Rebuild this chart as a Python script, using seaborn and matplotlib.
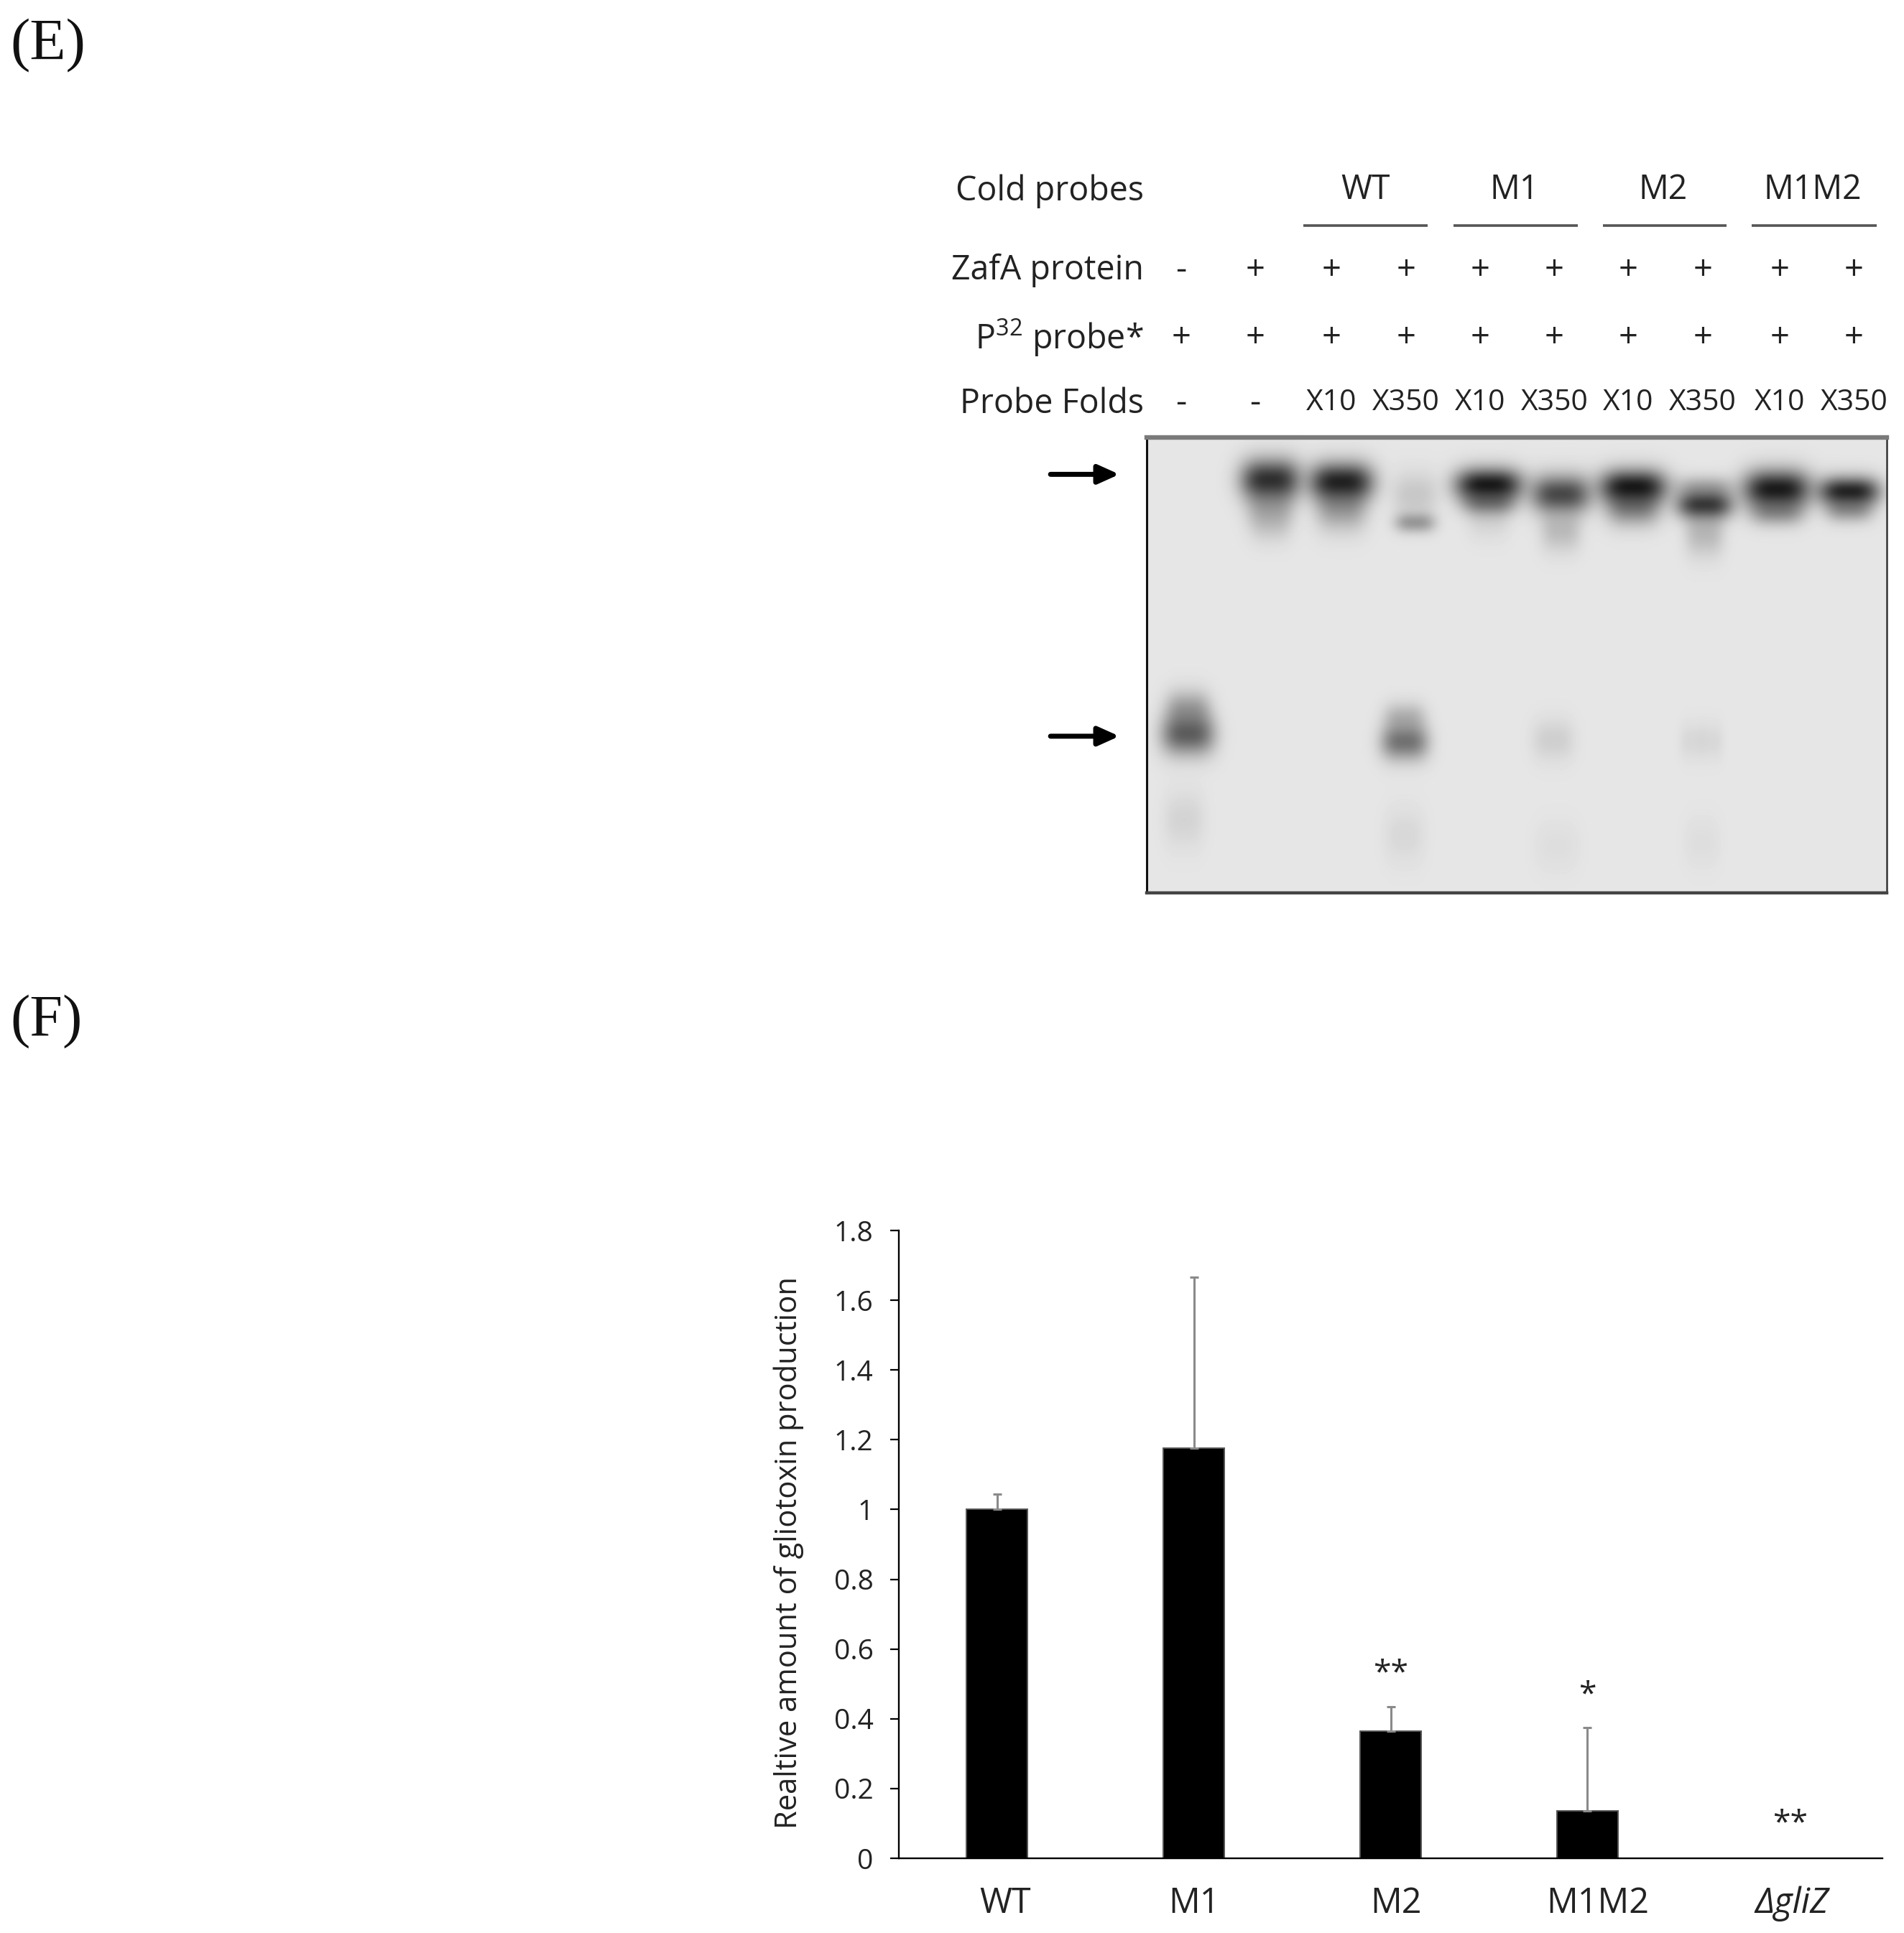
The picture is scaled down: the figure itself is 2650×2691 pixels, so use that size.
import numpy as np
import pandas as pd
import matplotlib
matplotlib.use("Agg")
import matplotlib.pyplot as plt
from matplotlib.transforms import blended_transform_factory, ScaledTranslation
import seaborn as sns

# ---- bar chart data (panel F)
strains = ["WT", "M1", "M2", "M1M2", "ΔgliZ"]
gliotoxin = [1.0, 1.175, 0.365, 0.135, 0.0]
err_upper = [0.045, 0.492, 0.07, 0.24, 0.0]
star_marks = ["", "", "**", "*", "**"]
star_x = [0, 1, 2.0, 3.0, 4.03]
star_heights = [0, 0, 0.528, 0.468, 0.098]
ytick_values = [0, 0.2, 0.4, 0.6, 0.8, 1, 1.2, 1.4, 1.6, 1.8]
ytick_labels = ["0", "0.2", "0.4", "0.6", "0.8", "1", "1.2", "1.4", "1.6", "1.8"]
label_shift_px = [11, 0, 7, 14, 11]

# ---- gel annotation (panel E)
lanes = [0, 0.99, 2.02, 3.02, 4.01, 5.01, 6.0, 7.0, 8.03, 9.03]
zafa_row = ["-", "+", "+", "+", "+", "+", "+", "+", "+", "+"]
p32_row = ["+"] * 10
folds_row = ["-", "-", "X10", "X350", "X10", "X350", "X10", "X350", "X10", "X350"]
group_names = ["WT", "M1", "M2", "M1M2"]
group_centres = [2.47, 4.47, 6.47, 8.47]
group_starts = [1.64, 3.65, 5.66, 7.66]
group_ends = [3.31, 5.32, 7.32, 9.33]
row_names = ["Cold probes", "ZafA protein", "P32 probe*", "Probe Folds"]

# ---- gel bands: position in lanes, migration (0 top..1 bottom), half sizes, darkness
band_x = [1.196, 1.196, 1.196,
          2.15, 2.15, 3.14, 3.14,
          4.13, 4.13, 4.13,
          5.10, 5.10,
          6.07, 6.07,
          7.03, 7.03, 7.03,
          8.0, 8.0, 8.97, 8.97,
          0.09, 0.09, 3.0, 3.0, 5.0, 6.86, 7.12,
          0.04, 3.0, 5.05, 7.0]
band_y = [0.092, 0.153, 0.195,
          0.097, 0.153, 0.126, 0.187,
          0.103, 0.142, 0.184,
          0.124, 0.205,
          0.108, 0.153,
          0.108, 0.147, 0.21,
          0.113, 0.163, 0.118, 0.158,
          0.652, 0.595, 0.669, 0.614, 0.665, 0.668, 0.668,
          0.84, 0.875, 0.9, 0.89]
band_sx = [0.4, 0.32, 0.26,
           0.43, 0.34, 0.3, 0.27,
           0.45, 0.36, 0.28,
           0.4, 0.27,
           0.45, 0.36,
           0.38, 0.38, 0.26,
           0.45, 0.36, 0.41, 0.32,
           0.36, 0.3, 0.32, 0.28, 0.28, 0.16, 0.16,
           0.27, 0.27, 0.3, 0.24]
band_sy = [0.045, 0.05, 0.04,
           0.042, 0.05, 0.05, 0.022,
           0.036, 0.03, 0.04,
           0.042, 0.045,
           0.038, 0.04,
           0.025, 0.032, 0.05,
           0.042, 0.03, 0.032, 0.028,
           0.046, 0.04, 0.04, 0.032, 0.045, 0.04, 0.04,
           0.06, 0.06, 0.055, 0.055]
band_dark = [0.78, 0.25, 0.07,
             0.84, 0.32, 0.13, 0.32,
             0.88, 0.4, 0.07,
             0.68, 0.18,
             0.88, 0.42,
             0.22, 0.74, 0.2,
             0.88, 0.33, 0.84, 0.33,
             0.58, 0.28, 0.5, 0.2, 0.1, 0.06, 0.06,
             0.08, 0.06, 0.035, 0.035]
gel_background = 0.9

W, H = 2650, 2691
DPI = 100
TEXT = "#222222"
FONT = ["Open Sans", "DejaVu Sans"]

sns.set_theme(style="white")
plt.rcParams["font.family"] = FONT
plt.rcParams["mathtext.default"] = "regular"

fig = plt.figure(figsize=(W / DPI, H / DPI), dpi=DPI, facecolor="white")


def px_axes(left, top, right, bottom):
    return fig.add_axes([left / W, 1 - bottom / H, (right - left) / W, (bottom - top) / H])


# ---------- panel labels
fig.text(14 / W, 1 - 64 / H, "(E)", family="Liberation Serif", fontsize=59, color="#111111",
         ha="left", va="center")
fig.text(14 / W, 1 - 1423 / H, "(F)", family="Liberation Serif", fontsize=59, color="#111111",
         ha="left", va="center")

# ---------- gel
GEL_L, GEL_T, GEL_R, GEL_B = 1596, 609, 2626, 1243
LANE_PX = 103.7
LANE0_PX = 1644
x_lo = (GEL_L - LANE0_PX) / LANE_PX
x_hi = (GEL_R - LANE0_PX) / LANE_PX
gel = px_axes(GEL_L, GEL_T, GEL_R, GEL_B)
xx, yy = np.meshgrid(np.linspace(x_lo, x_hi, 1030), np.linspace(0, 1, 634))
transmit = np.ones_like(xx)
for bx, by, sx, sy, d in zip(band_x, band_y, band_sx, band_sy, band_dark):
    transmit *= 1 - d * np.exp(-np.abs((xx - bx) / sx) ** 3.0 - np.abs((yy - by) / sy) ** 2.0)
gel.imshow(gel_background * transmit, cmap="gray", vmin=0, vmax=1, aspect="auto",
           extent=(x_lo, x_hi, 1, 0), interpolation="bilinear")
gel.set_autoscale_on(False)
gel.set_xlim(x_lo, x_hi)
gel.set_ylim(1, 0)
gel.set_xticks([])
gel.set_yticks([])
for side, colour, lw in [("left", "#111111", 2.2), ("bottom", "#444444", 3.2),
                         ("top", "#7a7a7a", 4.6), ("right", "#333333", 1.8)]:
    gel.spines[side].set_visible(True)
    gel.spines[side].set_color(colour)
    gel.spines[side].set_linewidth(lw)

tf = blended_transform_factory(gel.transData, gel.transAxes)


def row_frac(y_px):
    return (GEL_B - y_px) / (GEL_B - GEL_T)


row_y = [266, 376, 470, 562]
for name, y_px in zip(row_names, row_y):
    label = r"P$^{32}$ probe*" if name.startswith("P32") else name
    fig.text(1592 / W, 1 - y_px / H, label, ha="right", va="center", fontsize=33.5, color=TEXT)
for name, cx in zip(group_names, group_centres):
    gel.text(cx, row_frac(264), name, transform=tf, ha="center", va="center", fontsize=33.5,
             color=TEXT, clip_on=False)
for start, end in zip(group_starts, group_ends):
    gel.plot([start, end], [row_frac(314)] * 2, transform=tf, color="#555555", lw=2.6,
             clip_on=False, solid_capstyle="butt")
for lane, z, p, f in zip(lanes, zafa_row, p32_row, folds_row):
    gel.text(lane, row_frac(376), z, transform=tf, ha="center", va="center", fontsize=34,
             color=TEXT, clip_on=False)
    gel.text(lane, row_frac(470), p, transform=tf, ha="center", va="center", fontsize=34,
             color=TEXT, clip_on=False)
    gel.text(lane, row_frac(561), f, transform=tf, ha="center", va="center",
             fontsize=29.5 if f != "-" else 34, color=TEXT, clip_on=False)
for y_frac in (0.081, 0.656):
    gel.annotate("", xy=(-0.037, 1 - y_frac), xytext=(-0.13, 1 - y_frac),
                 xycoords="axes fraction", textcoords="axes fraction",
                 arrowprops=dict(arrowstyle="-|>,head_length=0.8,head_width=0.36", lw=5,
                                 color="black", shrinkA=0, shrinkB=0, mutation_scale=22))

# ---------- bar chart
ax = px_axes(1251, 1713, 2620, 2587)
df = pd.DataFrame({"strain": strains, "value": gliotoxin})
sns.barplot(data=df, x="strain", y="value", color="black", saturation=1, width=0.31,
            errorbar=None, edgecolor="#555555", linewidth=1.4, ax=ax)
ax.errorbar(range(4), gliotoxin[:4], yerr=[[0] * 4, err_upper[:4]], fmt="none",
            ecolor="#8a8a8a", elinewidth=2.2, capsize=4, capthick=2.2, zorder=1)
ax.set_xlim(-0.5, 4.5)
ax.set_ylim(0, 1.8)
ax.set_yticks(ytick_values)
ax.set_yticklabels(ytick_labels, fontsize=28, color=TEXT)
ax.tick_params(axis="y", left=True, length=8.5, width=1.6, color="black", pad=17)
ax.tick_params(axis="x", bottom=False, pad=22)
ax.set_xlabel("")
ax.set_ylabel("Realtive amount of gliotoxin production", fontsize=30, color=TEXT, va="center")
ax.yaxis.set_label_coords(-0.112, 0.487)
for side in ("top", "right"):
    ax.spines[side].set_visible(False)
for side in ("left", "bottom"):
    ax.spines[side].set_color("black")
    ax.spines[side].set_linewidth(1.7)
ax.set_xticks(range(len(strains)))
ax.set_xticklabels(strains, fontsize=35, color=TEXT)
for tick, shift in zip(ax.get_xticklabels(), label_shift_px):
    tick.set_transform(tick.get_transform() + ScaledTranslation(shift / DPI, 0, fig.dpi_scale_trans))
ax.get_xticklabels()[-1].set_fontstyle("italic")
for x, mark, h in zip(star_x, star_marks, star_heights):
    if mark:
        ax.text(x, h, mark, ha="center", va="center", fontsize=32, color=TEXT)

fig.savefig("out.png", dpi=DPI)
